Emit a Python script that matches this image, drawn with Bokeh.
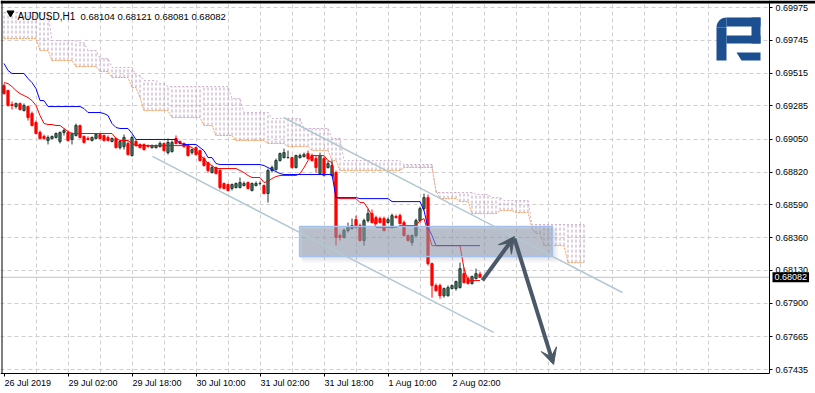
import math
from bokeh.plotting import figure
from bokeh.models import (Range1d, FixedTicker, NumeralTickFormatter, Label,
                          Arrow, VeeHead)
from bokeh.embed import file_html
from bokeh.resources import INLINE

# ---------------- data (H1 bars, index 0 = 26 Jul 2019) ----------------
opens = [
    0.69427, 0.69392, 0.69294, 0.69280, 0.69301, 0.69252, 0.69280, 0.69231, 0.69168, 0.69098,
    0.69070, 0.69042, 0.69056, 0.69063, 0.69035, 0.69098, 0.69098, 0.69049, 0.69077, 0.69147,
    0.69070, 0.69056, 0.69042, 0.69056, 0.69084, 0.69077, 0.69063, 0.69035, 0.69056, 0.68992,
    0.68999, 0.69021, 0.68936, 0.69035, 0.69014, 0.69014, 0.69006, 0.68992, 0.68992, 0.68999,
    0.69021, 0.68957, 0.68964, 0.69056, 0.69035, 0.69021, 0.69006, 0.68957, 0.68992, 0.68971,
    0.68915, 0.68887, 0.68817, 0.68852, 0.68831, 0.68740, 0.68733, 0.68705, 0.68712, 0.68712,
    0.68726, 0.68747, 0.68691, 0.68726, 0.68740, 0.68726, 0.68670, 0.68831, 0.68838, 0.68901,
    0.68922, 0.68922, 0.68922, 0.68852, 0.68922, 0.68929, 0.68950, 0.68936, 0.68915, 0.68810,
    0.68915, 0.68852, 0.68796, 0.68817, 0.68375, 0.68361, 0.68410, 0.68424, 0.68487, 0.68445,
    0.68340, 0.68480, 0.68529, 0.68501, 0.68494, 0.68494, 0.68466, 0.68431, 0.68508, 0.68515,
    0.68466, 0.68375, 0.68326, 0.68375, 0.68480, 0.68564, 0.68641, 0.68178, 0.68024, 0.68024,
    0.67953, 0.67953, 0.68003, 0.68003, 0.68010, 0.68108, 0.68073, 0.68038, 0.68073, 0.68104,
]
highs = [
    0.69441, 0.69399, 0.69315, 0.69308, 0.69308, 0.69301, 0.69287, 0.69245, 0.69182, 0.69112,
    0.69084, 0.69077, 0.69077, 0.69098, 0.69105, 0.69126, 0.69112, 0.69098, 0.69161, 0.69154,
    0.69077, 0.69070, 0.69070, 0.69091, 0.69091, 0.69084, 0.69077, 0.69063, 0.69063, 0.69042,
    0.69084, 0.69035, 0.69077, 0.69049, 0.69021, 0.69021, 0.69014, 0.69014, 0.69014, 0.69035,
    0.69028, 0.69056, 0.69042, 0.69077, 0.69042, 0.69028, 0.69014, 0.68985, 0.68999, 0.68978,
    0.68929, 0.68894, 0.68866, 0.68859, 0.68845, 0.68747, 0.68740, 0.68740, 0.68747, 0.68782,
    0.68754, 0.68754, 0.68747, 0.68754, 0.68754, 0.68733, 0.68845, 0.68866, 0.68915, 0.68957,
    0.68985, 0.68971, 0.68929, 0.68943, 0.68950, 0.68957, 0.68971, 0.68950, 0.68936, 0.68957,
    0.68929, 0.68901, 0.68901, 0.68831, 0.68389, 0.68424, 0.68466, 0.68494, 0.68515, 0.68459,
    0.68494, 0.68564, 0.68557, 0.68515, 0.68508, 0.68508, 0.68501, 0.68529, 0.68522, 0.68529,
    0.68480, 0.68382, 0.68382, 0.68494, 0.68578, 0.68669, 0.68662, 0.68185, 0.68038, 0.68038,
    0.68010, 0.68024, 0.68031, 0.68059, 0.68185, 0.68150, 0.68087, 0.68094, 0.68143, 0.68121,
]
lows = [
    0.69364, 0.69280, 0.69259, 0.69266, 0.69252, 0.69245, 0.69182, 0.69140, 0.69084, 0.69049,
    0.69049, 0.69014, 0.69049, 0.69056, 0.69021, 0.69077, 0.69035, 0.69014, 0.69070, 0.69056,
    0.69021, 0.69042, 0.69035, 0.69049, 0.69049, 0.69035, 0.69035, 0.69028, 0.68985, 0.68978,
    0.68978, 0.68936, 0.68929, 0.68999, 0.68985, 0.68971, 0.68992, 0.68985, 0.68985, 0.68992,
    0.68964, 0.68943, 0.68957, 0.69014, 0.69014, 0.68992, 0.68929, 0.68943, 0.68936, 0.68894,
    0.68859, 0.68817, 0.68810, 0.68803, 0.68698, 0.68698, 0.68684, 0.68691, 0.68705, 0.68705,
    0.68719, 0.68698, 0.68684, 0.68719, 0.68726, 0.68663, 0.68606, 0.68817, 0.68831, 0.68894,
    0.68915, 0.68915, 0.68845, 0.68845, 0.68915, 0.68922, 0.68908, 0.68894, 0.68817, 0.68803,
    0.68789, 0.68845, 0.68789, 0.68304, 0.68340, 0.68354, 0.68396, 0.68417, 0.68424, 0.68333,
    0.68304, 0.68466, 0.68459, 0.68452, 0.68459, 0.68403, 0.68459, 0.68424, 0.68494, 0.68452,
    0.68368, 0.68333, 0.68304, 0.68361, 0.68466, 0.68550, 0.68164, 0.67939, 0.67981, 0.67932,
    0.67939, 0.67946, 0.67996, 0.67988, 0.68003, 0.68038, 0.68031, 0.68031, 0.68066, 0.68081,
]
closes = [
    0.69371, 0.69287, 0.69287, 0.69301, 0.69259, 0.69287, 0.69203, 0.69147, 0.69091, 0.69056,
    0.69056, 0.69063, 0.69070, 0.69091, 0.69098, 0.69112, 0.69042, 0.69091, 0.69147, 0.69063,
    0.69028, 0.69049, 0.69063, 0.69084, 0.69056, 0.69042, 0.69042, 0.69056, 0.68992, 0.69035,
    0.69063, 0.68943, 0.69063, 0.69006, 0.68992, 0.68978, 0.68999, 0.69006, 0.69006, 0.69021,
    0.68971, 0.69028, 0.69028, 0.69021, 0.69021, 0.68999, 0.68936, 0.68978, 0.68943, 0.68901,
    0.68866, 0.68831, 0.68852, 0.68810, 0.68712, 0.68705, 0.68691, 0.68733, 0.68740, 0.68747,
    0.68740, 0.68705, 0.68740, 0.68740, 0.68740, 0.68670, 0.68831, 0.68852, 0.68901, 0.68950,
    0.68957, 0.68922, 0.68852, 0.68936, 0.68936, 0.68943, 0.68915, 0.68901, 0.68852, 0.68936,
    0.68796, 0.68880, 0.68866, 0.68361, 0.68361, 0.68410, 0.68438, 0.68445, 0.68431, 0.68340,
    0.68480, 0.68529, 0.68466, 0.68459, 0.68466, 0.68410, 0.68487, 0.68515, 0.68501, 0.68459,
    0.68375, 0.68340, 0.68375, 0.68480, 0.68564, 0.68641, 0.68178, 0.68024, 0.67988, 0.67953,
    0.68003, 0.68010, 0.68024, 0.68052, 0.68143, 0.68045, 0.68038, 0.68087, 0.68108, 0.68082,
]
tenkan = [
    0.69448, 0.69441, 0.69420, 0.69392, 0.69371, 0.69357, 0.69343, 0.69322, 0.69287, 0.69217,
    0.69161, 0.69154, 0.69154, 0.69147, 0.69147, 0.69126, 0.69105, 0.69091, 0.69091, 0.69091,
    0.69091, 0.69091, 0.69091, 0.69091, 0.69091, 0.69091, 0.69091, 0.69091, 0.69056, 0.69042,
    0.69042, 0.69042, 0.69021, 0.69006, 0.69006, 0.69006, 0.69006, 0.69006, 0.69006, 0.69006,
    0.69006, 0.69006, 0.69006, 0.69006, 0.69006, 0.69006, 0.69006, 0.68992, 0.68971, 0.68936,
    0.68915, 0.68880, 0.68866, 0.68845, 0.68845, 0.68845, 0.68845, 0.68845, 0.68845, 0.68831,
    0.68817, 0.68796, 0.68782, 0.68782, 0.68782, 0.68747, 0.68754, 0.68775, 0.68789, 0.68796,
    0.68796, 0.68796, 0.68796, 0.68796, 0.68810, 0.68852, 0.68901, 0.68936, 0.68936, 0.68936,
    0.68936, 0.68901, 0.68887, 0.68641, 0.68634, 0.68634, 0.68634, 0.68634, 0.68634, 0.68606,
    0.68606, 0.68564, 0.68515, 0.68431, 0.68431, 0.68431, 0.68431, 0.68431, 0.68431, 0.68445,
    0.68445, 0.68445, 0.68445, 0.68445, 0.68480, 0.68494, 0.68396, 0.68304, 0.68304, 0.68304,
    0.68304, 0.68304, 0.68304, 0.68304, 0.68304, 0.68143, 0.68059, 0.68059, 0.68059, 0.68059,
]
kijun = [
    0.69582, 0.69533, 0.69512, 0.69512, 0.69512, 0.69512, 0.69477, 0.69448, 0.69406, 0.69322,
    0.69322, 0.69280, 0.69280, 0.69280, 0.69280, 0.69280, 0.69280, 0.69280, 0.69280, 0.69280,
    0.69266, 0.69238, 0.69238, 0.69238, 0.69238, 0.69231, 0.69217, 0.69161, 0.69133, 0.69126,
    0.69126, 0.69126, 0.69091, 0.69049, 0.69049, 0.69049, 0.69049, 0.69049, 0.69049, 0.69049,
    0.69049, 0.69049, 0.69049, 0.69049, 0.69021, 0.69014, 0.69014, 0.69014, 0.69014, 0.68992,
    0.68971, 0.68922, 0.68922, 0.68880, 0.68873, 0.68873, 0.68873, 0.68873, 0.68873, 0.68873,
    0.68873, 0.68873, 0.68873, 0.68873, 0.68873, 0.68866, 0.68852, 0.68838, 0.68824, 0.68810,
    0.68803, 0.68803, 0.68803, 0.68803, 0.68803, 0.68803, 0.68803, 0.68803, 0.68803, 0.68803,
    0.68803, 0.68803, 0.68803, 0.68641, 0.68641, 0.68641, 0.68641, 0.68641, 0.68641, 0.68634,
    0.68634, 0.68634, 0.68634, 0.68634, 0.68634, 0.68634, 0.68634, 0.68613, 0.68613, 0.68613,
    0.68613, 0.68613, 0.68613, 0.68613, 0.68613, 0.68550, 0.68431, 0.68375, 0.68304, 0.68304,
    0.68304, 0.68304, 0.68304, 0.68304, 0.68304, 0.68304, 0.68304, 0.68304, 0.68304, 0.68304,
]
senkou_a = [
    0.69757, 0.69757, 0.69757, 0.69757, 0.69757, 0.69757, 0.69757, 0.69757, 0.69757, 0.69673,
    0.69673, 0.69673, 0.69603, 0.69603, 0.69603, 0.69603, 0.69603, 0.69603, 0.69561, 0.69561,
    0.69561, 0.69561, 0.69561, 0.69561, 0.69526, 0.69526, 0.69526, 0.69484, 0.69484, 0.69484,
    0.69484, 0.69484, 0.69413, 0.69413, 0.69343, 0.69252, 0.69252, 0.69252, 0.69252, 0.69252,
    0.69252, 0.69252, 0.69203, 0.69203, 0.69203, 0.69203, 0.69203, 0.69203, 0.69203, 0.69203,
    0.69147, 0.69147, 0.69147, 0.69077, 0.69077, 0.69077, 0.69077, 0.69077, 0.69042, 0.69042,
    0.69042, 0.69042, 0.69042, 0.69042, 0.69042, 0.69042, 0.69021, 0.69021, 0.69021, 0.69021,
    0.69021, 0.68999, 0.68999, 0.68999, 0.68999, 0.68999, 0.68999, 0.68971, 0.68971, 0.68971,
    0.68971, 0.68971, 0.68901, 0.68901, 0.68831, 0.68831, 0.68831, 0.68831, 0.68831, 0.68831,
    0.68831, 0.68831, 0.68831, 0.68831, 0.68831, 0.68831, 0.68831, 0.68831, 0.68831, 0.68831,
    0.68852, 0.68852, 0.68852, 0.68852, 0.68852, 0.68852, 0.68852, 0.68852, 0.68691, 0.68634,
    0.68634, 0.68634, 0.68634, 0.68634, 0.68613, 0.68613, 0.68613, 0.68529, 0.68529, 0.68529,
    0.68529, 0.68529, 0.68529, 0.68529, 0.68550, 0.68550, 0.68550, 0.68550, 0.68536, 0.68536,
    0.68536, 0.68536, 0.68424, 0.68389, 0.68389, 0.68304, 0.68304, 0.68304, 0.68304, 0.68304,
    0.68304, 0.68185, 0.68185, 0.68185, 0.68185, 0.68185,
]
senkou_b = [
    0.69940, 0.69940, 0.69940, 0.69940, 0.69940, 0.69940, 0.69940, 0.69940, 0.69940, 0.69940,
    0.69940, 0.69940, 0.69743, 0.69743, 0.69743, 0.69743, 0.69743, 0.69743, 0.69743, 0.69729,
    0.69729, 0.69673, 0.69673, 0.69673, 0.69617, 0.69617, 0.69617, 0.69554, 0.69554, 0.69554,
    0.69554, 0.69554, 0.69554, 0.69498, 0.69498, 0.69462, 0.69462, 0.69462, 0.69462, 0.69441,
    0.69441, 0.69420, 0.69420, 0.69420, 0.69420, 0.69420, 0.69420, 0.69420, 0.69420, 0.69420,
    0.69420, 0.69420, 0.69420, 0.69420, 0.69420, 0.69420, 0.69420, 0.69336, 0.69336, 0.69336,
    0.69238, 0.69238, 0.69238, 0.69238, 0.69238, 0.69238, 0.69238, 0.69196, 0.69196, 0.69196,
    0.69196, 0.69196, 0.69196, 0.69196, 0.69196, 0.69126, 0.69126, 0.69126, 0.69126, 0.69126,
    0.69126, 0.69126, 0.69056, 0.69056, 0.69056, 0.68901, 0.68901, 0.68901, 0.68901, 0.68901,
    0.68901, 0.68901, 0.68901, 0.68901, 0.68901, 0.68901, 0.68901, 0.68901, 0.68901, 0.68901,
    0.68873, 0.68873, 0.68873, 0.68873, 0.68873, 0.68873, 0.68873, 0.68873, 0.68677, 0.68677,
    0.68677, 0.68677, 0.68677, 0.68677, 0.68677, 0.68677, 0.68677, 0.68677, 0.68663, 0.68663,
    0.68663, 0.68663, 0.68641, 0.68641, 0.68641, 0.68620, 0.68620, 0.68620, 0.68620, 0.68620,
    0.68620, 0.68620, 0.68452, 0.68452, 0.68452, 0.68452, 0.68452, 0.68452, 0.68452, 0.68452,
    0.68452, 0.68452, 0.68452, 0.68452, 0.68452, 0.68452,
]
y_ticks = [0.69975, 0.69745, 0.69515, 0.69285, 0.69050, 0.68820,
           0.68590, 0.68360, 0.68130, 0.67900, 0.67665, 0.67435]
x_tick_idx = [0, 16, 32, 48, 64, 80, 96, 112]
x_tick_labels = ["26 Jul 2019", "29 Jul 02:00", "29 Jul 18:00", "30 Jul 10:00",
                 "31 Jul 02:00", "31 Jul 18:00", "1 Aug 10:00", "2 Aug 02:00"]

# drawn objects (bar index, price)
zone = dict(left=73.9, right=137.1, top=0.68438, bottom=0.68228)
chan_upper_x = [69.9, 154.6]
chan_upper_y = [0.69203, 0.67975]
chan_lower_x = [37.1, 122.4]
chan_lower_y = [0.68930, 0.67695]
arrow1 = (119.6, 0.68060, 127.6, 0.68368)
arrow2 = (127.6, 0.68354, 137.4, 0.67470)

# ---------------- geometry: the frame covers the whole canvas ----------------
W, H = 815, 393
AX_X, AX_Y = 769, 373          # pixel position of the price scale / time scale lines
XS = -3.5 / 4.0                # bar i is drawn at pixel 3.5 + 4 i
XE = XS + W / 4.0
PPX = (0.69975 - 0.67435) / 362.0
Y_TOP = 0.69975 + 7 * PPX
Y_BOT = Y_TOP - H * PPX


def dx(px):
    return XS + px / 4.0


def dy(py):
    return Y_TOP - py * PPX


FONT = "Liberation Sans"

p = figure(width=W, height=H, output_backend="svg", toolbar_location=None, title=None,
           x_range=Range1d(XS, XE), y_range=Range1d(Y_BOT, Y_TOP), y_axis_location="right",
           min_border_left=0, min_border_right=0, min_border_top=0, min_border_bottom=0,
           background_fill_color="white", border_fill_color="white", outline_line_color=None)

yax = p.yaxis[0]
yax.fixed_location = dx(AX_X)
yax.bounds = (dy(AX_Y), Y_TOP)
yax.ticker = FixedTicker(ticks=y_ticks)
yax.formatter = NumeralTickFormatter(format="0.00000")
yax.major_tick_in = 0
yax.major_tick_out = 3
yax.minor_tick_line_color = None
yax.axis_line_color = "black"
yax.major_tick_line_color = "black"
yax.major_label_text_font = FONT
yax.major_label_text_font_size = "9px"
yax.major_label_text_color = "black"
yax.major_label_standoff = 3

xax = p.xaxis[0]
xax.fixed_location = dy(AX_Y)
xax.bounds = (XS, dx(AX_X))
xax.ticker = FixedTicker(ticks=x_tick_idx)
xax.major_tick_in = 0
xax.major_tick_out = 3
xax.minor_tick_line_color = None
xax.axis_line_color = "black"
xax.major_tick_line_color = "black"
xax.major_label_text_font_size = "9px"
xax.major_label_text_alpha = 0

p.ygrid.ticker = FixedTicker(ticks=y_ticks)
p.xgrid.ticker = FixedTicker(ticks=list(range(8, 184, 8)))
for g in (p.xgrid, p.ygrid):
    g.grid_line_color = "#cfcfcf"
    g.grid_line_dash = "4 3"
    g.grid_line_width = 1

# white margins outside the price/time scales (hide the grid there)
p.quad(left=[dx(AX_X), XS], right=[XE, XE], top=[Y_TOP, dy(AX_Y)], bottom=[Y_BOT, Y_BOT],
       fill_color="white", line_color=None)

# ---------------- Ichimoku cloud ----------------
cidx = list(range(len(senkou_a)))
p.segment(x0=cidx, y0=senkou_a, x1=cidx, y1=senkou_b, line_color="#bea2be",
          line_width=1, line_dash="3 2")
p.line(cidx, senkou_a, line_color="#f4a460", line_width=1, line_dash="2 1")
p.line(cidx, senkou_b, line_color="#cdb0cd", line_width=1, line_dash="2 2")

# bid line
p.segment(x0=[XS], y0=[closes[-1]], x1=[dx(AX_X)], y1=[closes[-1]],
          line_color="#c4c4c4", line_width=1)

# ---------------- candles ----------------
idx = list(range(len(closes)))
bull = [c >= o for o, c in zip(opens, closes)]
BULL_FILL, BULL_LINE, BEAR = "#3c7f63", "#22362e", "#ff0000"
wick_col = [BULL_LINE if b else BEAR for b in bull]
p.segment(x0=idx, y0=lows, x1=idx, y1=highs, line_color=wick_col, line_width=1)
p.vbar(x=idx, width=0.55,
       top=[max(o, c) for o, c in zip(opens, closes)],
       bottom=[min(o, c) for o, c in zip(opens, closes)],
       fill_color=[BULL_FILL if b else BEAR for b in bull],
       line_color=wick_col, line_width=1)

p.line(idx, tenkan, line_color="#ff0000", line_width=1)
p.line(idx, kijun, line_color="#0000ff", line_width=1)

# ---------------- drawn objects ----------------
for k, off in enumerate((2, 4, 6)):
    p.quad(left=[zone["left"] + off / 8.0], right=[zone["right"] + off / 4.0],
           top=[zone["top"] - off * PPX * 0.5], bottom=[zone["bottom"] - off * PPX],
           fill_color="#7a8694", fill_alpha=0.07, line_color=None)
p.quad(left=[zone["left"]], right=[zone["right"]], top=[zone["top"]], bottom=[zone["bottom"]],
       fill_color="#8d9aab", fill_alpha=0.5, line_color="#a3c1ea", line_width=1.5)
p.line(chan_upper_x, chan_upper_y, line_color="#b3c7d3", line_width=1.5)
p.line(chan_lower_x, chan_lower_y, line_color="#b3c7d3", line_width=1.5)

ARROW_C = "#4a5867"
for a in (arrow1, arrow2):
    p.add_layout(Arrow(end=VeeHead(size=16, fill_color=ARROW_C, line_color=ARROW_C),
                       x_start=a[0], y_start=a[1], x_end=a[2], y_end=a[3],
                       line_color=ARROW_C, line_width=4))

# logo (P-shape with rounded top-left corner plus a slanted foot)
LOGO = "#1c4f90"
logo_boxes = [(726, 760, 17, 26), (716, 726, 27, 60), (751, 760, 17, 43), (726, 760, 35, 43)]
p.quad(left=[dx(b[0]) for b in logo_boxes], right=[dx(b[1]) for b in logo_boxes],
       top=[dy(b[2]) for b in logo_boxes], bottom=[dy(b[3]) for b in logo_boxes],
       fill_color=LOGO, line_color=None)
corner = [(726, 27)] + [(726 - 10 * math.cos(math.radians(a)), 27 - 10 * math.sin(math.radians(a)))
                        for a in range(0, 91, 10)]
corner += [(726, 26)]
p.patch([dx(q[0]) for q in corner], [dy(q[1]) for q in corner], fill_color=LOGO, line_color=None)
foot = [(736, 52), (760, 52), (760, 60), (741, 60)]
p.patch([dx(q[0]) for q in foot], [dy(q[1]) for q in foot], fill_color=LOGO, line_color=None)

# window frame: black band at the top, thin line at the left
p.quad(left=[XS], right=[XE], top=[Y_TOP], bottom=[dy(3)], fill_color="black", line_color=None)
p.segment(x0=[dx(1.5)], y0=[Y_TOP], x1=[dx(1.5)], y1=[dy(AX_Y)], line_color="black",
          line_width=1)

# title
p.scatter([dx(10)], [dy(12.5)], marker="inverted_triangle", size=7, fill_color="black",
          line_color="black")
p.add_layout(Label(x=dx(17), y=dy(16), text="AUDUSD,H1", text_font=FONT,
                   text_font_size="10px", text_color="black", text_baseline="alphabetic"))
p.add_layout(Label(x=dx(80), y=dy(16), text="0.68104 0.68121 0.68081 0.68082", text_font=FONT,
                   text_font_size="9.5px", text_color="black", text_baseline="alphabetic"))

# time scale labels (left aligned at their ticks, MT4 style)
for i, t in zip(x_tick_idx, x_tick_labels):
    p.add_layout(Label(x=i + 0.1, y=dy(AX_Y + 4), text=t, text_font=FONT, text_font_size="9px",
                       text_color="black", text_align="left", text_baseline="top"))

# current price box on the price scale
p.add_layout(Label(x=dx(AX_X + 3), y=closes[-1], text="%.5f" % closes[-1], text_font=FONT,
                   text_font_size="9px", text_color="white", text_align="left",
                   text_baseline="middle", background_fill_color="black", padding=2))

open("out.html", "w").write(file_html(p, INLINE))
